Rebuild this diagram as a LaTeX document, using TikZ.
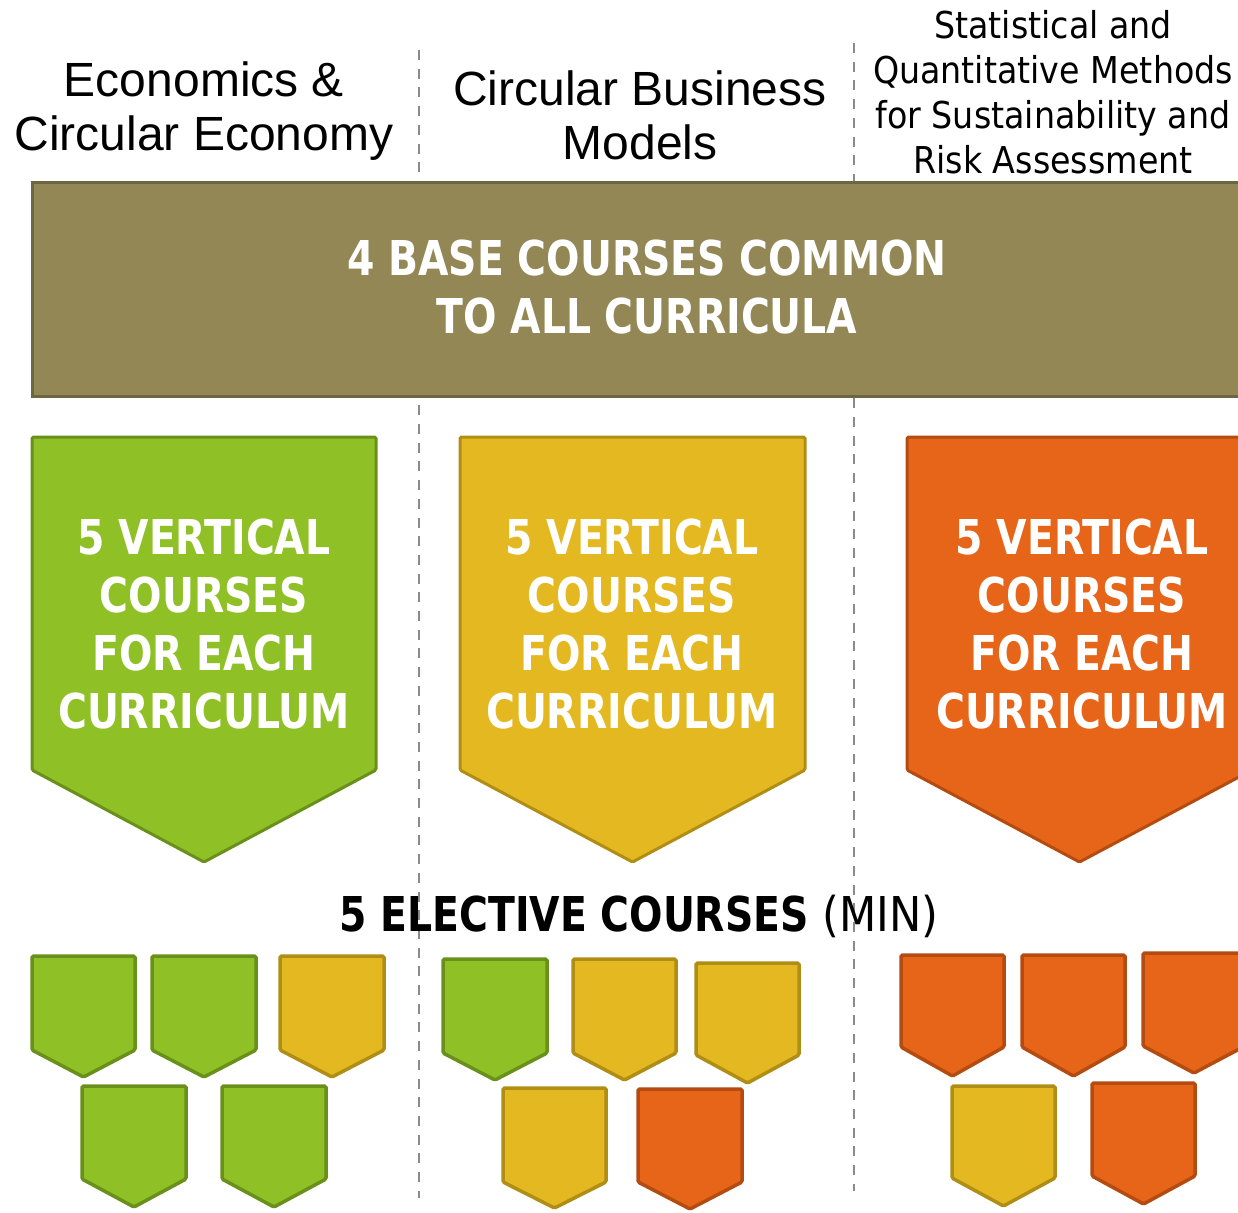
\documentclass[tikz,border=0pt]{standalone}
\usepackage{fontspec}
\setmainfont{Liberation Sans}
\newfontfamily\tah[FakeStretch=0.9]{DejaVu Sans}
\newfontfamily\tahb[FakeStretch=0.82]{DejaVu Sans Bold}
\definecolor{gfill}{HTML}{8FC126}
\definecolor{gline}{HTML}{6A901C}
\definecolor{yfill}{HTML}{E4B820}
\definecolor{yline}{HTML}{B08E16}
\definecolor{ofill}{HTML}{E66518}
\definecolor{oline}{HTML}{B44B10}
\definecolor{bfill}{HTML}{938756}
\definecolor{bline}{HTML}{6E6640}
\definecolor{dgray}{HTML}{8A8A8A}
\tikzset{
  sep/.style={draw=dgray, line width=2.3pt, dash pattern=on 10pt off 8.7pt},
  greenbox/.style={fill=gfill, draw=gline, line width=3.5pt, rounded corners=1.5pt},
  yellowbox/.style={fill=yfill, draw=yline, line width=3.5pt, rounded corners=1.5pt},
  orangebox/.style={fill=ofill, draw=oline, line width=3.5pt, rounded corners=1.5pt},
  bigtext/.style={text=white, font=\tahb\fontsize{48}{58}\selectfont, align=center},
  headarial/.style={font=\fontsize{48}{54}\selectfont, align=center},
  headtah/.style={font=\tah\fontsize{37}{45}\selectfont, align=center},
}
% #1 style, #2 left, #3 top, #4 right, #5 side bottom, #6 tip
\newcommand{\shieldshape}[6]{%
  \draw[#1] (#2,#3) -- (#4,#3) -- (#4,#5) -- ({(#2+#4)/2},#6) -- (#2,#5) -- cycle;}
\begin{document}
\begin{tikzpicture}[x=1pt,y=-1pt]
\useasboundingbox (0,0) rectangle (1238,1212);
\clip (0,0) rectangle (1238,1212);
% separators
\coordinate (s1top) at (419,50);
\coordinate (s1bot) at (419,1198);
\coordinate (s2top) at (854,43);
\coordinate (s2bot) at (854,1191);
\draw[sep] (s1top) -- (s1bot);
\draw[sep] (s2top) -- (s2bot);
% headers
\node[headarial] (h1) at (204,111) {Economics \&\\Circular Economy};
\node[headarial] (h2) at (640,115) {Circular Business\\Models};
\node[headtah] (h3) at (1053,92) {Statistical and\\Quantitative Methods\\for Sustainability and\\Risk Assessment};
% banner
\draw[fill=bfill, draw=bline, line width=3pt] (32,182) rectangle (1260,396);
\node[bigtext] (base) at (647,287) {4 BASE COURSES COMMON\\TO ALL CURRICULA};
% big shields
\shieldshape{greenbox, line width=3pt}{32}{437}{376}{770}{862}
\shieldshape{yellowbox, line width=3pt}{460}{437}{805}{770}{862}
\shieldshape{orangebox, line width=3pt}{907}{437}{1252}{770}{862}
\node[bigtext] (v1) at (204,624) {5 VERTICAL\\COURSES\\FOR EACH\\CURRICULUM};
\node[bigtext] (v2) at (632,624) {5 VERTICAL\\COURSES\\FOR EACH\\CURRICULUM};
\node[bigtext] (v3) at (1082,624) {5 VERTICAL\\COURSES\\FOR EACH\\CURRICULUM};
% elective label
\node[font=\fontsize{48}{54}\selectfont] (el) at (639,916) {\tahb 5 ELECTIVE COURSES\tah{} (MIN)};
% small shields - left
\shieldshape{greenbox}{32}{956}{135}{1050}{1077}
\shieldshape{greenbox}{152}{956}{256}{1050}{1077}
\shieldshape{yellowbox}{280}{956}{384}{1050}{1077}
\shieldshape{greenbox}{82}{1086}{186}{1179}{1207}
\shieldshape{greenbox}{222}{1086}{326}{1179}{1207}
% middle
\shieldshape{greenbox}{443}{959}{547}{1053}{1080}
\shieldshape{yellowbox}{573}{959}{676}{1053}{1080}
\shieldshape{yellowbox}{696}{963}{799}{1055}{1083}
\shieldshape{yellowbox}{503}{1088}{606}{1182}{1208}
\shieldshape{orangebox}{638}{1089}{742}{1182}{1209}
% right
\shieldshape{orangebox}{901}{955}{1004}{1047}{1076}
\shieldshape{orangebox}{1022}{955}{1125}{1047}{1076}
\shieldshape{orangebox}{1143}{953}{1245}{1046}{1073}
\shieldshape{yellowbox}{952}{1086}{1055}{1178}{1206}
\shieldshape{orangebox}{1092}{1083}{1195}{1176}{1204}
\end{tikzpicture}
\end{document}
